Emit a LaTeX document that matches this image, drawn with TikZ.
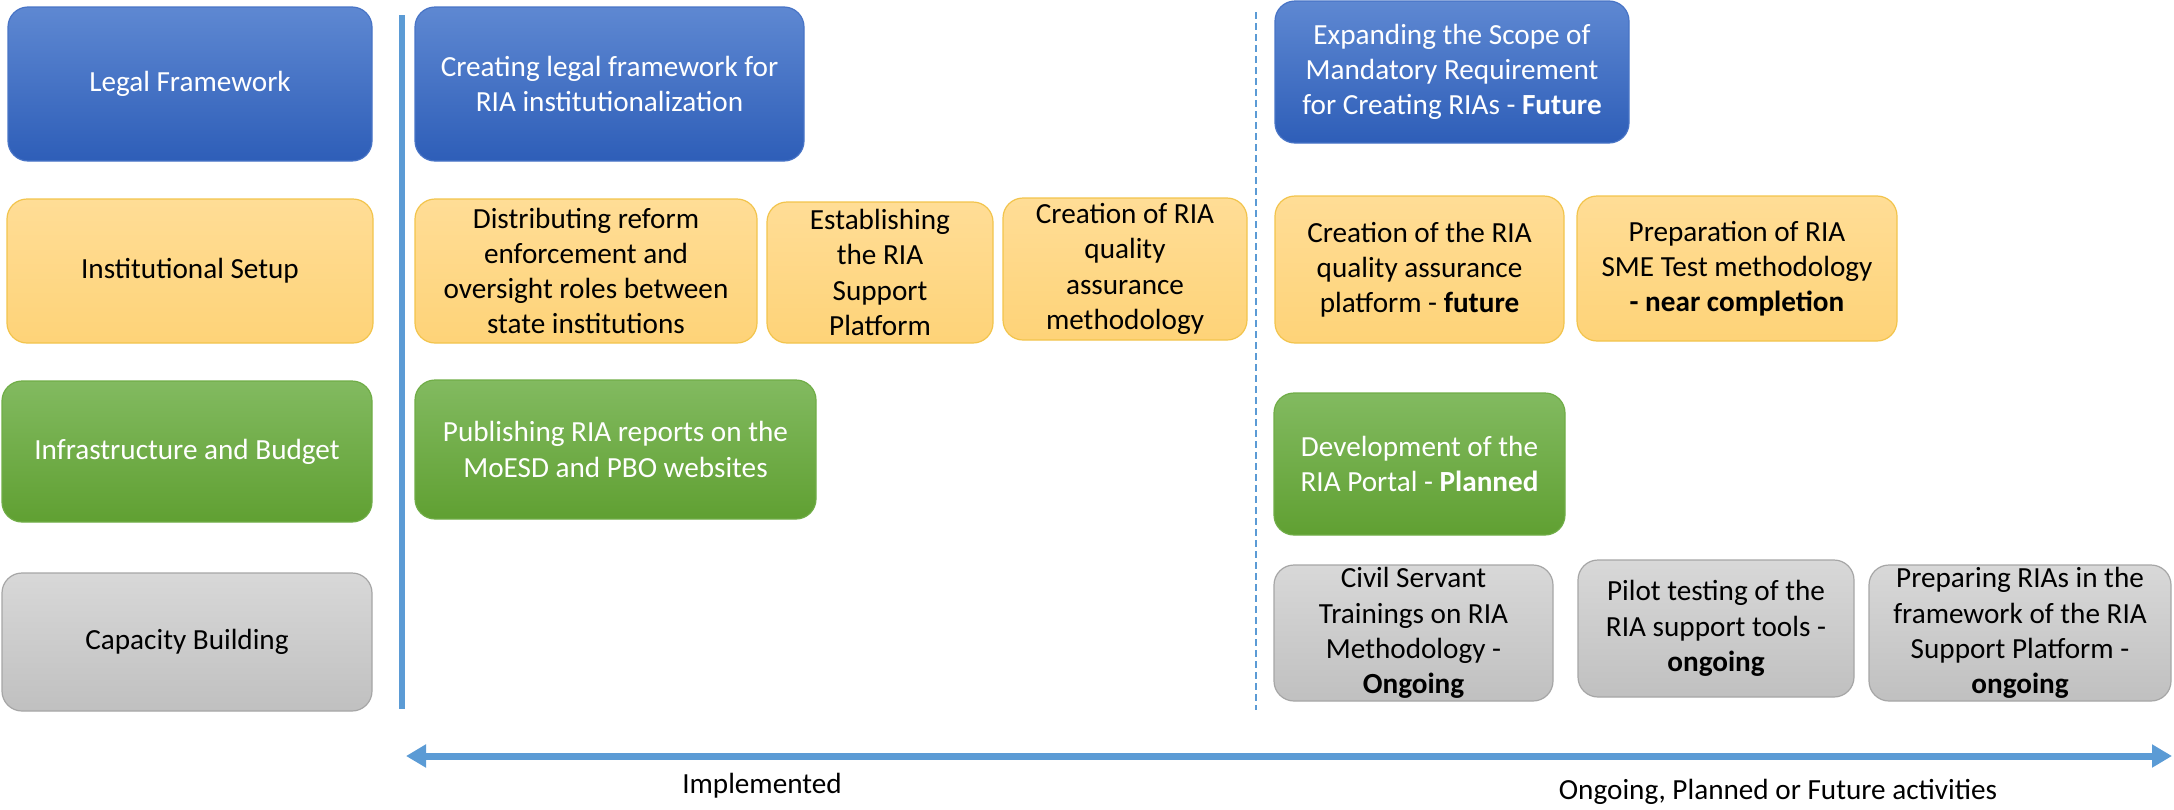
\documentclass[tikz,border=0pt]{standalone}
\usepackage{fontspec}
\setmainfont{Carlito}
\usetikzlibrary{arrows.meta}
\definecolor{bluetop}{RGB}{94,136,210}
\definecolor{bluebot}{RGB}{46,94,184}
\definecolor{blueedge}{RGB}{72,116,198}
\definecolor{greentop}{RGB}{130,186,96}
\definecolor{greenbot}{RGB}{96,160,50}
\definecolor{greenedge}{RGB}{112,173,71}
\definecolor{yeltop}{RGB}{255,221,150}
\definecolor{yelbot}{RGB}{254,211,120}
\definecolor{yeledge}{RGB}{242,196,76}
\definecolor{graytop}{RGB}{216,216,216}
\definecolor{graybot}{RGB}{192,192,192}
\definecolor{grayedge}{RGB}{166,166,166}
\definecolor{linecol}{RGB}{91,155,213}
\newcommand{\boxfont}{\fontsize{14.6}{17.6}\selectfont}
\tikzset{
  box/.style={rounded corners=10pt, inner sep=0pt, align=center, font=\boxfont, line width=0.6pt},
  bluebox/.style={box, top color=bluetop, bottom color=bluebot, draw=blueedge, text=white},
  greenbox/.style={box, top color=greentop, bottom color=greenbot, draw=greenedge, text=white},
  yelbox/.style={box, top color=yeltop, bottom color=yelbot, draw=yeledge, text=black},
  graybox/.style={box, top color=graytop, bottom color=graybot, draw=grayedge, text=black},
  lbl/.style={font=\boxfont, inner sep=0pt, text=black},
  vline/.style={draw=linecol, line width=3pt},
  dline/.style={draw=linecol, line width=0.8pt, dash pattern=on 3.5pt off 2pt},
  tline/.style={draw=linecol, line width=3.5pt, {Triangle[length=10pt,width=11pt]}-{Triangle[length=10pt,width=11pt]}}
}
\begin{document}
\begin{tikzpicture}[x=0.5pt,y=-0.5pt]
\useasboundingbox (0,0) rectangle (2174,809);
% row 1
\node[bluebox, minimum width=182pt, minimum height=77pt] (lf) at (190,84) {Legal Framework};
\node[bluebox, minimum width=194.5pt, minimum height=77pt] (clf) at (609.5,84) {Creating legal framework for\\RIA institutionalization};
\node[bluebox, minimum width=177pt, minimum height=71pt] (exp) at (1452,72) {Expanding the Scope of\\Mandatory Requirement\\for Creating RIAs - \textbf{Future}};
% row 2
\node[yelbox, minimum width=183pt, minimum height=72pt] (is) at (190,271) {Institutional Setup};
\node[yelbox, minimum width=171pt, minimum height=72pt] (dist) at (586,271) {Distributing reform\\enforcement and\\oversight roles between\\state institutions};
\node[yelbox, minimum width=113pt, minimum height=70.5pt] (est) at (880,272.5) {Establishing\\the RIA\\Support\\Platform};
\node[yelbox, minimum width=122pt, minimum height=71pt] (cqa) at (1125,269) {Creation of RIA\\quality\\assurance\\methodology};
\node[yelbox, minimum width=144.5pt, minimum height=73.5pt] (cpl) at (1419.5,269.5) {Creation of the RIA\\quality assurance\\platform - \textbf{future}};
\node[yelbox, minimum width=160pt, minimum height=72.5pt] (prep) at (1737,268.5) {Preparation of RIA\\SME Test methodology\\\textbf{- near completion}};
% row 3
\node[greenbox, minimum width=185pt, minimum height=70.5pt] (ib) at (187,451.5) {Infrastructure and Budget};
\node[greenbox, minimum width=200.5pt, minimum height=69.5pt] (pub) at (615.5,449.5) {Publishing RIA reports on the\\MoESD and PBO websites};
\node[greenbox, minimum width=145.5pt, minimum height=71pt] (dev) at (1419.5,464) {Development of the\\RIA Portal - \textbf{Planned}};
% row 4
\node[graybox, minimum width=185pt, minimum height=69pt] (cb) at (187,642) {Capacity Building};
\node[graybox, minimum width=139.5pt, minimum height=68pt] (civ) at (1413.5,633) {Civil Servant\\Trainings on RIA\\Methodology -\\\textbf{Ongoing}};
\node[graybox, minimum width=138pt, minimum height=68.5pt] (pil) at (1716,628.5) {Pilot testing of the\\RIA support tools -\\\textbf{ongoing}};
\node[graybox, minimum width=151pt, minimum height=68pt] (prp) at (2020,633) {Preparing RIAs in the\\framework of the RIA\\Support Platform -\\\textbf{ongoing}};
% lines
\coordinate (v1) at (402,15);
\coordinate (v2) at (402,709);
\coordinate (d1) at (1256,12);
\coordinate (d2) at (1256,710);
\coordinate (a1) at (406,756);
\coordinate (a2) at (2172,756);
\draw[vline] (v1) -- (v2);
\draw[dline] (d1) -- (d2);
\draw[tline] (a1) -- (a2);
% labels
\node[lbl] (impl) at (762,786) {Implemented};
\node[lbl] (ongo) at (1778,792) {Ongoing, Planned or Future activities};
\end{tikzpicture}
\end{document}
